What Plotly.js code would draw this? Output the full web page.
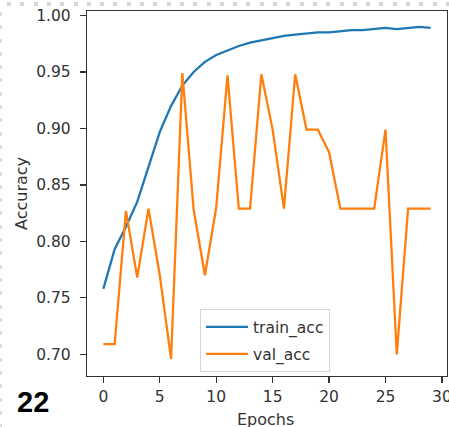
<!DOCTYPE html>
<html>
<head>
<meta charset="utf-8">
<script src="https://cdn.plot.ly/plotly-3.0.1.min.js"></script>
<style>
  html, body { margin: 0; padding: 0; background: #fff; }
  #wrap { position: relative; width: 449px; height: 427px; overflow: hidden; }
  #chart { position: absolute; left: 0; top: 0; width: 449px; height: 427px; }
  .dots-top { position: absolute; left: 7px; top: 2px; width: 442px; height: 4px;
    background: repeating-linear-gradient(to right, #d6d6d6 0 4px, transparent 4px 13.3px); z-index: 2; }
  .dots-left { position: absolute; left: 0; top: 12px; width: 2px; height: 415px;
    background: repeating-linear-gradient(to bottom, #dcdcdc 0 4px, transparent 4px 13.3px); z-index: 2; }
</style>
</head>
<body>
<div id="wrap">
  <div id="chart"></div>
  <div class="dots-top"></div>
  <div class="dots-left"></div>
</div>
<script>
const epochs = [0,1,2,3,4,5,6,7,8,9,10,11,12,13,14,15,16,17,18,19,20,21,22,23,24,25,26,27,28,29];
const trainAcc = [0.758,0.793,0.813,0.835,0.866,0.897,0.920,0.938,0.950,0.959,0.965,0.969,0.973,0.976,0.978,0.980,0.982,0.983,0.984,0.985,0.985,0.986,0.987,0.987,0.988,0.989,0.988,0.989,0.990,0.989];
const valAcc = [0.709,0.709,0.827,0.768,0.829,0.770,0.696,0.949,0.828,0.770,0.830,0.947,0.829,0.829,0.948,0.899,0.829,0.948,0.899,0.899,0.879,0.829,0.829,0.829,0.829,0.899,0.700,0.829,0.829,0.829];
const seriesNames = ["train_acc", "val_acc"];
const xTicks = [0,5,10,15,20,25,30];
const yTicks = [0.70,0.75,0.80,0.85,0.90,0.95,1.00];
const yTickText = ["0.70","0.75","0.80","0.85","0.90","0.95","1.00"];
const xTitle = "Epochs";
const yTitle = "Accuracy";

const FONT = "DejaVu Sans, Verdana, sans-serif";
const traces = [
  {x: epochs, y: trainAcc, name: seriesNames[0], mode: "lines", legendgroup: "a",
   line: {color: "#1f77b4", width: 2.3}},
  {x: epochs, y: valAcc, name: seriesNames[1], mode: "lines", legendgroup: "b",
   line: {color: "#ff7f0e", width: 2.3}}
];
const axisCommon = {
  showgrid: false, zeroline: false, showline: true, mirror: true,
  linecolor: "#333", linewidth: 1.2, ticks: "outside", ticklen: 6, tickwidth: 1.2,
  tickcolor: "#333", tickfont: {family: FONT, size: 15.5, color: "#333"},
  ticklabeloverflow: "allow"
};
const layout = {
  width: 449, height: 427,
  margin: {l: 87, r: 1.5, t: 11, b: 51},
  paper_bgcolor: "#fff", plot_bgcolor: "#fff",
  font: {family: FONT, color: "#333"},
  showlegend: true,
  legend: {x: 0.314, y: 0.183, xanchor: "left", yanchor: "top",
    bgcolor: "rgba(255,255,255,0.8)", bordercolor: "#d4d4d4", borderwidth: 1,
    itemwidth: 42,
    font: {family: FONT, size: 15.5, color: "#333"}, tracegroupgap: 4},
  xaxis: Object.assign({}, axisCommon, {
    range: [-1.45, 30.45], tickvals: xTicks, ticktext: xTicks.map(String)
  }),
  yaxis: Object.assign({}, axisCommon, {
    range: [0.6808, 1.0040], tickvals: yTicks, ticktext: yTickText,
    ticklabelstandoff: 6,
    title: {text: yTitle, font: {family: FONT, size: 16, color: "#333"}, standoff: 4}
  }),
  annotations: [{
    text: "22", xref: "paper", yref: "paper", x: -0.149, y: -0.072,
    xanchor: "center", yanchor: "middle", showarrow: false,
    font: {family: "Liberation Sans, Arial, sans-serif", size: 29, color: "#000", weight: "bold"}
  }, {
    text: xTitle, xref: "paper", yref: "paper", x: 0.497, y: -0.119,
    xanchor: "center", yanchor: "middle", showarrow: false,
    font: {family: FONT, size: 16, color: "#333"}
  }]
};
Plotly.newPlot("chart", traces, layout, {displayModeBar: false, staticPlot: true});
</script>
</body>
</html>
